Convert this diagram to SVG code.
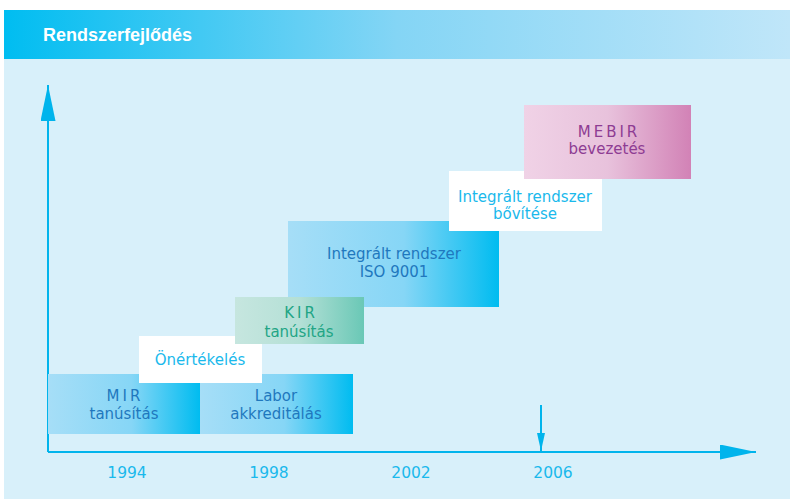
<svg xmlns="http://www.w3.org/2000/svg" width="790" height="499" viewBox="0 0 790 499">
<defs>
<linearGradient id="gHead" x1="0" y1="0" x2="1" y2="0"><stop offset="0" stop-color="#00bdf1"/><stop offset="0.5" stop-color="#84d5f5"/><stop offset="1" stop-color="#c0e6f9"/></linearGradient>
<linearGradient id="gBlue" x1="0" y1="0" x2="1" y2="0"><stop offset="0" stop-color="#a6def7"/><stop offset="0.55" stop-color="#86d6f6"/><stop offset="1" stop-color="#00bcf0"/></linearGradient>
<linearGradient id="gGreen" x1="0" y1="0" x2="1" y2="0"><stop offset="0" stop-color="#c6e6df"/><stop offset="0.5" stop-color="#b4e0d6"/><stop offset="1" stop-color="#6ac8b6"/></linearGradient>
<linearGradient id="gPink" x1="0" y1="0" x2="1" y2="0"><stop offset="0" stop-color="#f0d2e6"/><stop offset="0.5" stop-color="#e8c2dc"/><stop offset="1" stop-color="#d282b6"/></linearGradient>
<marker id="bigHead" viewBox="0 0 10 10" refX="10" refY="5" markerUnits="userSpaceOnUse" markerWidth="36" markerHeight="15" orient="auto" preserveAspectRatio="none"><path d="M0,0 L10,5 L0,10 Z" fill="#00b4ec"/></marker>
<marker id="smallHead" viewBox="0 0 10 10" refX="10" refY="5" markerUnits="userSpaceOnUse" markerWidth="18" markerHeight="8" orient="auto" preserveAspectRatio="none"><path d="M0,0 L10,5 L0,10 Z" fill="#00b4ec"/></marker>
</defs>
<style>
text{font-family:"DejaVu Sans","Liberation Sans",sans-serif;font-size:15px;text-anchor:middle}
.dark{fill:#1f78be}
.cyan{fill:#1ab9ec}
.teal{fill:#22a585}
.purple{fill:#8e3c93}
.sp{letter-spacing:3px}
.year{fill:#1ab9ec;font-size:15.5px}
.axis{stroke:#00b4ec;stroke-width:2;fill:none}
</style>
<rect x="4" y="59" width="786" height="440" fill="#d8f0fa"/>
<g id="header">
<rect x="4" y="10" width="786" height="49" fill="url(#gHead)"/>
<text x="43" y="41" style="text-anchor:start;font-family:'Liberation Sans',sans-serif;font-weight:bold;font-size:18px;fill:#ffffff">Rendszerfejlődés</text>
</g>
<g id="connectors">
<line class="axis" x1="48" y1="452" x2="756" y2="452" marker-end="url(#bigHead)"/>
<line class="axis" x1="48" y1="452" x2="48" y2="85" marker-end="url(#bigHead)"/>
<line class="axis" x1="541" y1="405" x2="541" y2="451" marker-end="url(#smallHead)" stroke-width="1.6"/>
</g>
<g id="mir">
<rect x="48" y="374" width="152" height="60" fill="url(#gBlue)"/>
<text class="dark sp" x="125" y="401">MIR</text>
<text class="dark" x="124" y="419">tanúsítás</text>
</g>
<g id="labor">
<rect x="200" y="374" width="153" height="60" fill="url(#gBlue)"/>
<text class="dark" x="276" y="401">Labor</text>
<text class="dark" x="276" y="419">akkreditálás</text>
</g>
<g id="integralt">
<rect x="288" y="221" width="211" height="86" fill="url(#gBlue)"/>
<text class="dark" x="394" y="259">Integrált rendszer</text>
<text class="dark" x="394" y="277">ISO 9001</text>
</g>
<g id="onertekeles">
<rect x="139" y="336" width="123" height="47" fill="#ffffff"/>
<text class="cyan" x="200" y="365">Önértékelés</text>
</g>
<g id="kir">
<rect x="235" y="297" width="129" height="47" fill="url(#gGreen)"/>
<text class="teal sp" x="301" y="318">KIR</text>
<text class="teal" x="299" y="337">tanúsítás</text>
</g>
<g id="bovitese">
<rect x="449" y="171" width="153" height="60" fill="#ffffff"/>
<text class="cyan" x="525" y="202">Integrált rendszer</text>
<text class="cyan" x="525" y="219">bővítése</text>
</g>
<g id="mebir">
<rect x="524" y="105" width="167" height="74" fill="url(#gPink)"/>
<text class="purple sp" x="609" y="137">MEBIR</text>
<text class="purple" x="607" y="154">bevezetés</text>
</g>
<g id="years">
<text class="year" x="127" y="478">1994</text>
<text class="year" x="269" y="478">1998</text>
<text class="year" x="411" y="478">2002</text>
<text class="year" x="553" y="478">2006</text>
</g>
</svg>
